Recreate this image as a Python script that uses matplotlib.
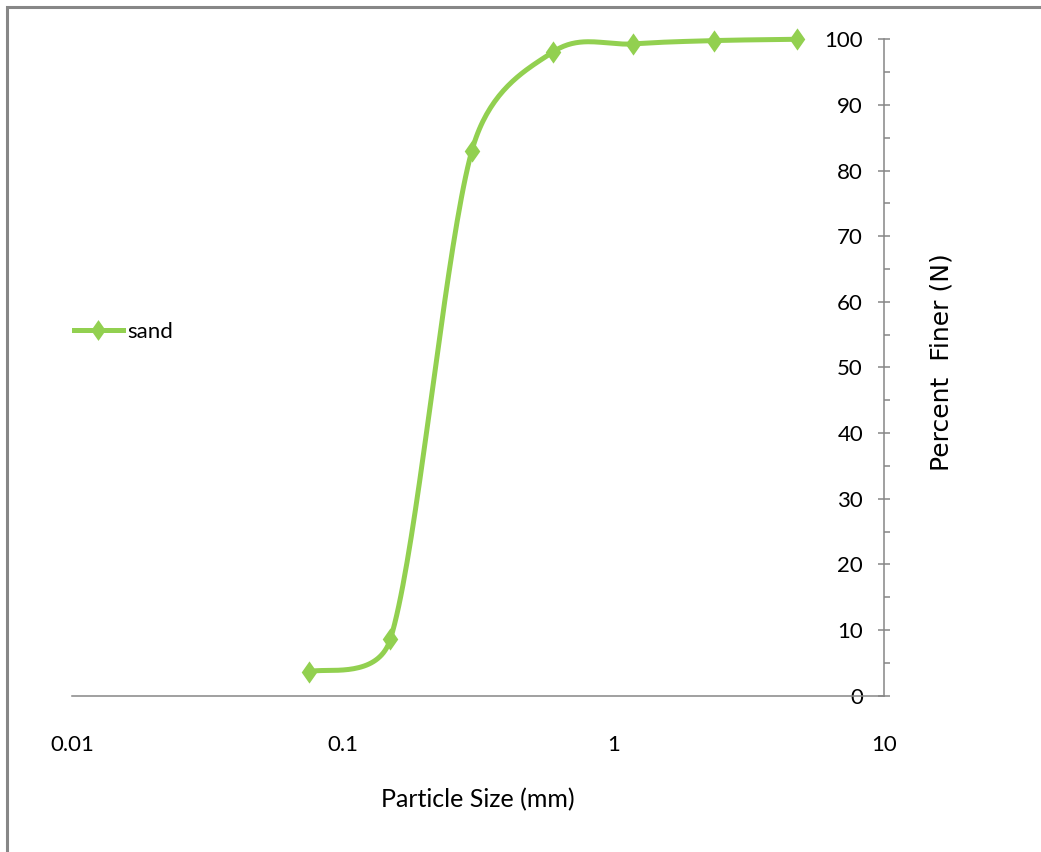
import numpy as np
import matplotlib
matplotlib.use('Agg')
import matplotlib.pyplot as plt
import matplotlib.transforms as mtransforms
from matplotlib.path import Path
from matplotlib.lines import Line2D
from matplotlib.patches import Rectangle
from matplotlib.ticker import FixedLocator, MultipleLocator, NullLocator

# sieve analysis of the sand sample
sieve_mm = [0.075, 0.15, 0.3, 0.6, 1.18, 2.36, 4.75]
pct_finer = [3.6, 8.6, 83.0, 98.1, 99.3, 99.8, 100.0]

x_ticks = [0.01, 0.1, 1, 10]
x_ticklabels = ['0.01', '0.1', '1', '10']
y_ticks = list(range(0, 101, 10))

GREEN = '#92d050'
GREY = '#868686'

plt.rcParams['font.family'] = ['Lato', 'DejaVu Sans']

# tall diamond marker
diamond = Path([(0, 1), (0.7, 0), (0, -1), (-0.7, 0), (0, 1)],
               [Path.MOVETO, Path.LINETO, Path.LINETO, Path.LINETO, Path.CLOSEPOLY])


def smooth(ax, xs, ys, n=40):
    # spreadsheet-style smoothed line: cubic Bezier pieces in display space,
    # control arms (p_next - p_prev)/6, capped at half the segment length
    pts = ax.transData.transform(np.column_stack([xs, ys]))
    m = len(pts)
    out = [pts[0]]
    t = np.linspace(0, 1, n)[1:, None]
    for i in range(m - 1):
        p0 = pts[i - 1] if i > 0 else pts[i]
        p1, p2 = pts[i], pts[i + 1]
        p3 = pts[i + 2] if i + 2 < m else pts[i + 1]
        half = np.hypot(*(p2 - p1)) / 2
        a1 = (p2 - p0) / 6
        a2 = (p3 - p1) / 6
        l1, l2 = np.hypot(*a1), np.hypot(*a2)
        if l1 > half:
            a1 = a1 * half / l1
        if l2 > half:
            a2 = a2 * half / l2
        c1 = p1 + a1
        c2 = p2 - a2
        seg = (1 - t) ** 3 * p1 + 3 * (1 - t) ** 2 * t * c1 + 3 * (1 - t) * t ** 2 * c2 + t ** 3 * p2
        out.extend(seg)
    out = ax.transData.inverted().transform(np.array(out))
    return out[:, 0], out[:, 1]


fig = plt.figure(figsize=(10.41, 8.52), dpi=100)
ax = fig.add_axes([0.0692, 0.1835, 0.780, 0.7704])
ax.set_xscale('log')
ax.set_xlim(0.01, 10)
ax.set_ylim(0, 100)

sx, sy = smooth(ax, sieve_mm, pct_finer)
ax.plot(sx, sy, color=GREEN, lw=3.6, solid_capstyle='round', clip_on=False, zorder=3)
ax.plot(sieve_mm, pct_finer, ls='none', marker=diamond, ms=16, color=GREEN,
        mec=GREEN, mew=0, clip_on=False, zorder=4)

# value axis sits on the right end of the log axis, labels on its left side
for side in ['top', 'right']:
    ax.spines[side].set_visible(False)
ax.spines['left'].set_position(('data', 10))
for side in ['left', 'bottom']:
    ax.spines[side].set_color(GREY)
    ax.spines[side].set_linewidth(1.1)

ax.yaxis.set_major_locator(FixedLocator(y_ticks))
ax.yaxis.set_minor_locator(MultipleLocator(5))
ax.tick_params(axis='y', which='major', direction='inout', length=8.6, width=1.1,
               color=GREY, pad=10.8, labelsize=16)
ax.tick_params(axis='y', which='minor', direction='in', length=4.2, width=1.1, color=GREY)

ax.set_xticks(x_ticks, x_ticklabels)
ax.xaxis.set_minor_locator(NullLocator())
ax.tick_params(axis='x', which='major', length=0, pad=28, labelsize=16)

ax.set_xlabel('Particle Size (mm)', fontsize=18, va='center')
ax.xaxis.set_label_coords(0.5, 1 - 800 / 852,
                          transform=mtransforms.blended_transform_factory(ax.transAxes, fig.transFigure))
ax.set_ylabel('Percent  Finer (N)', fontsize=18, family='DejaVu Sans',
              rotation=90, ha='center', va='center')
ax.yaxis.set_label_coords(941 / 1041, 1 - 362 / 852, transform=fig.transFigure)

handle = Line2D([], [], color=GREEN, lw=3.6, marker=diamond, ms=15, mew=0)
ax.legend([handle], ['sand'], loc='center left',
          bbox_to_anchor=(74 / 1041, 1 - 332 / 852), bbox_transform=fig.transFigure,
          frameon=False, handlelength=2.2, handletextpad=0.2, borderpad=0,
          borderaxespad=0, fontsize=16)

# chart frame: only its top and left edges fall inside the canvas
fig.add_artist(Rectangle((7 / 1041, -0.5), 2, 1.5 - 7 / 852, transform=fig.transFigure,
                         fill=False, edgecolor='#878787', lw=2.2))

fig.savefig('out.png', dpi=100)
